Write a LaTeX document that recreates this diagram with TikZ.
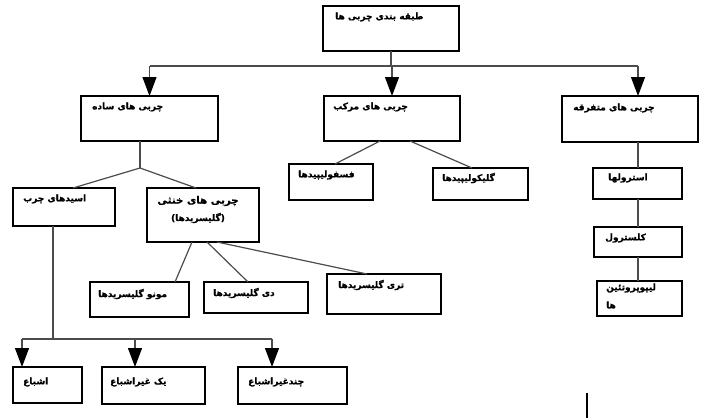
\documentclass[tikz,border=0pt]{standalone}
\usepackage{fontspec}
\newfontfamily\fa[Script=Arabic,BoldFeatures={FakeBold=0.8}]{DejaVu Sans}
\newfontfamily\falat[BoldFeatures={FakeBold=0.8}]{DejaVu Sans}
\TeXXeTstate=1
\usetikzlibrary{arrows.meta,calc}
\newcommand\rtl[1]{\beginR #1\endR}
\newcommand\paren[1]{\hbox{\falat\bfseries #1}}

\begin{document}
\begin{tikzpicture}[x=1pt,y=-1pt,
  box/.style={draw=black, line width=1.1pt, rectangle, inner sep=0pt, outer sep=0pt, anchor=north west},
  lbl/.style={font=\fa\bfseries\fontsize{9}{11}\selectfont, inner sep=0pt, anchor=west},
  biglbl/.style={font=\fa\bfseries\fontsize{10.2}{12}\selectfont, inner sep=0pt},
  conn/.style={draw=black!70, line width=1.2pt},
  arr/.style={conn, -{Triangle[width=14pt,length=19pt,color=black]}},
]
\useasboundingbox[fill=white] (0,0) rectangle (707,418);

% boxes
\node[box, minimum width=136pt, minimum height=45pt] (top) at (323,6) {};
\node[box, minimum width=137pt, minimum height=45pt] (simple) at (81,96) {};
\node[box, minimum width=136pt, minimum height=45pt] (complex) at (324,96) {};
\node[box, minimum width=136pt, minimum height=46pt] (misc) at (562,96) {};
\node[box, minimum width=102pt, minimum height=38pt] (acids) at (13,188) {};
\node[box, minimum width=112pt, minimum height=54pt] (neutral) at (147,188) {};
\node[box, minimum width=84pt, minimum height=36pt] (phospho) at (289,164) {};
\node[box, minimum width=95pt, minimum height=32pt] (glyco) at (433,168) {};
\node[box, minimum width=89pt, minimum height=31pt] (sterols) at (593,168) {};
\node[box, minimum width=88pt, minimum height=30pt] (chol) at (594,227) {};
\node[box, minimum width=85pt, minimum height=35pt] (lipo) at (597,281) {};
\node[box, minimum width=99pt, minimum height=35pt] (monog) at (90,282) {};
\node[box, minimum width=104pt, minimum height=31pt] (dig) at (204,282) {};
\node[box, minimum width=114pt, minimum height=40pt] (trig) at (327,274) {};
\node[box, minimum width=69pt, minimum height=36pt] (sat) at (13,367) {};
\node[box, minimum width=103pt, minimum height=37pt] (monou) at (102,367) {};
\node[box, minimum width=109pt, minimum height=37pt] (polyu) at (238,367) {};

% labels
\node[lbl] (ttop) at (335,17) {\rtl{طبقه بندی چربی ها}};
\node[lbl] (tsimple) at (92,107) {\rtl{چربی های ساده}};
\node[lbl] (tcomplex) at (333,107) {\rtl{چربی های مرکب}};
\node[lbl] (tmisc) at (573,108) {\rtl{چربی های متفرقه}};
\node[lbl] (tacids) at (23,199) {\rtl{اسیدهای چرب}};
\node[biglbl] (tneutral) at (198,201) {\rtl{چربی های خنثی}};
\node[lbl, anchor=center] (tglycer) at (198,218) {\paren{(}\rtl{گلیسریدها}\paren{)}};
\node[lbl] (tphospho) at (298,175) {\rtl{فسفولیپیدها}};
\node[lbl] (tglyco) at (442,178) {\rtl{گلیکولیپیدها}};
\node[lbl] (tsterols) at (608,178) {\rtl{استرولها}};
\node[lbl] (tchol) at (605,238) {\rtl{کلسترول}};
\node[lbl] (tlipo) at (606,288) {\rtl{لیپوپروتئین}};
\node[lbl] (tlipob) at (606,305) {\rtl{ها}};
\node[lbl] (tmonog) at (98,294) {\rtl{مونو گلیسریدها}};
\node[lbl] (tdig) at (213,293) {\rtl{دی گلیسریدها}};
\node[lbl] (ttrig) at (338,285) {\rtl{تری گلیسریدها}};
\node[lbl] (tsat) at (23,382) {\rtl{اشباع}};
\node[lbl] (tmonou) at (110,382) {\rtl{یک غیراشباع}};
\node[lbl] (tpolyu) at (248,382) {\rtl{چندغیراشباع}};

% junction points
\coordinate (bus) at (0,66);
\coordinate (miscin) at ($(misc.north west)+(76,0)$);
\coordinate (sfork) at (140,168);
\coordinate (abus) at (0,339);
\coordinate (satin) at ($(sat.north west)+(9,0)$);
\coordinate (monouin) at ($(monou.north west)+(33,0)$);
\coordinate (polyuin) at ($(polyu.north west)+(34,0)$);
\coordinate (acidout) at ($(acids.south west)+(40,0)$);

% top level
\draw[conn] (top.south) -- (top.south |- bus);
\draw[conn] (simple.north |- bus) -- (miscin |- bus);
\draw[arr] (simple.north |- bus) -- (simple.north);
\draw[arr] (complex.north |- bus) -- (complex.north);
\draw[arr] (miscin |- bus) -- (miscin);

% simple lipids
\draw[conn] ($(simple.south west)+(59,0)$) -- (sfork);
\draw[conn] (sfork) -- ($(acids.north west)+(60,0)$);
\draw[conn] (sfork) -- ($(neutral.north west)+(49,0)$);

% compound lipids
\draw[conn] ($(complex.south west)+(56,0)$) -- ($(phospho.north west)+(46,0)$);
\draw[conn] ($(complex.south west)+(86,0)$) -- ($(glyco.north west)+(39,0)$);

% derived lipids
\draw[conn] (misc.south -| miscin) -- (sterols.north -| miscin);
\draw[conn] (sterols.south -| miscin) -- (chol.north -| miscin);
\draw[conn] (chol.south -| miscin) -- (lipo.north -| miscin);

% glycerides
\draw[conn] ($(neutral.south west)+(45,0)$) -- ($(monog.north west)+(85,0)$);
\draw[conn] ($(neutral.south west)+(60,0)$) -- ($(dig.north west)+(44,0)$);
\draw[conn] ($(neutral.south west)+(70,0)$) -- ($(trig.north west)+(40,0)$);

% fatty acids
\draw[conn] (acidout) -- (acidout |- abus);
\draw[conn] (satin |- abus) -- (polyuin |- abus);
\draw[arr] (satin |- abus) -- (satin);
\draw[arr] (monouin |- abus) -- (monouin);
\draw[arr] (polyuin |- abus) -- (polyuin);

% text cursor mark
\draw[line width=1.6pt] (587,393) -- (587,418);
\end{tikzpicture}
\end{document}
